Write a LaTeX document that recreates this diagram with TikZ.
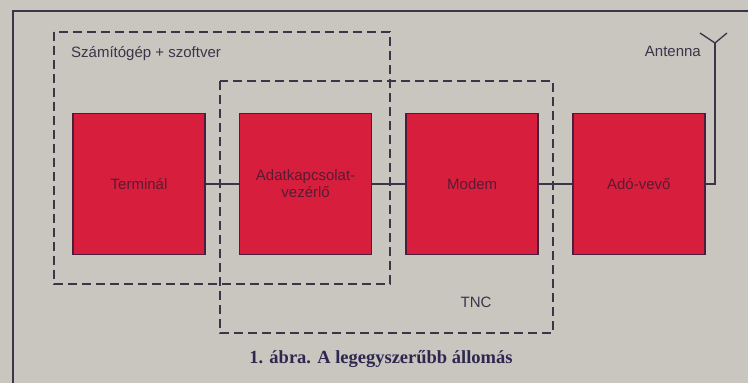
\documentclass[tikz,border=0pt]{standalone}
\usepackage{fontspec}
\setmainfont{Liberation Sans}
\newfontfamily\captionserif{Liberation Serif}
\usetikzlibrary{positioning}
\definecolor{PaperGray}{HTML}{C9C5BF}
\definecolor{BlockRed}{HTML}{D71F3D}
\definecolor{BlockEdge}{HTML}{4B1E3E}
\definecolor{InkDark}{HTML}{3A3548}
\definecolor{BlockText}{HTML}{5A1A32}
\definecolor{CaptionInk}{HTML}{2E2850}

\begin{document}
\begin{tikzpicture}[x=1pt, y=-1pt,
    unitbox/.style={draw=BlockEdge, line width=1.6pt, fill=BlockRed, minimum width=132pt, minimum height=141pt,
      inner sep=0pt, text=BlockText, align=center, font=\fontsize{15}{17}\selectfont},
    dashbox/.style={draw=InkDark, line width=1.5pt, dash pattern=on 9pt off 5pt},
    wire/.style={draw=InkDark, line width=1.3pt},
    lbl/.style={text=InkDark, inner sep=0pt, font=\fontsize{15}{17}\selectfont}]
  \path[use as bounding box, fill=PaperGray] (0,0) rectangle (748,383);
  \draw[InkDark, line width=1.8pt] (13,390) |- (752,11);

  % computer and TNC groups
  \draw[dashbox] (54,32) rectangle (390,284);
  \draw[dashbox] (220,81) rectangle (553,333);
  \node[lbl, anchor=west] (pc) at (71,54) {Számítógép + szoftver};
  \node[lbl] (tnc) at (476,302) {TNC};

  % station chain
  \node[unitbox] (term) at (139,184) {Terminál};
  \node[unitbox, right=33pt of term] (dlc) {Adatkapcsolat-\\vezérlő};
  \node[unitbox, right=33pt of dlc] (modem) {Modem};
  \node[unitbox, right=33pt of modem] (radio) {Adó-vevő};
  \draw[wire] (term) -- (dlc);
  \draw[wire] (dlc) -- (modem);
  \draw[wire] (modem) -- (radio);

  % antenna
  \coordinate (feed) at (715,43);
  \coordinate (armL) at (700,33);
  \coordinate (armR) at (727,33);
  \draw[wire] (radio.east) -| (feed);
  \draw[wire] (armL) -- (feed) -- (armR);
  \node[lbl, anchor=east] (antlbl) at (701,51) {Antenna};

  \node[text=CaptionInk, inner sep=0pt, anchor=base, font=\captionserif\bfseries\fontsize{18.5}{20}\selectfont] (cap)
    at (381,363) {1. ábra. A legegyszerűbb állomás};
\end{tikzpicture}
\end{document}
